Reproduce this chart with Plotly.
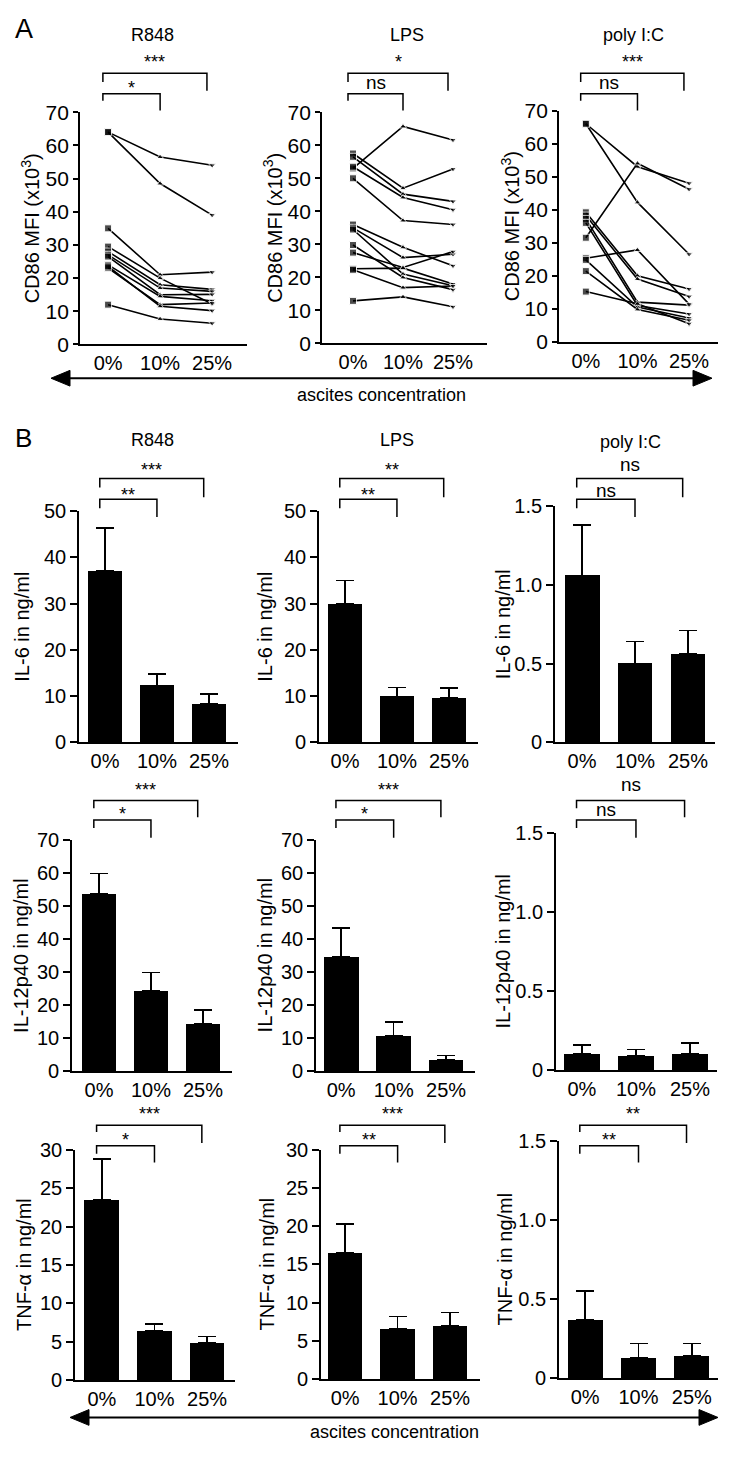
import plotly.graph_objects as go

# The browser page adds an 8px body margin; the figure is sized/offset so that the
# picture coordinates below (reference pixels) land where they should.
PAGE_W, PAGE_H, OFF = 733, 1457, 8
W, H = PAGE_W - OFF, PAGE_H - OFF
FONT = "Liberation Sans, Arial, Helvetica, sans-serif"

conc = ["0%", "10%", "25%"]
stimuli = ["R848", "LPS", "poly I:C"]

# ---- Panel A: CD86 MFI (x10^3), one entry per donor (0%, 10%, 25% ascites)
r848_0 = [64, 64, 35, 29.5, 28, 27, 26.5, 24, 23, 23.5, 12]
r848_10 = [56.5, 48.5, 21, 20, 18, 17, 15, 14.5, 12, 11.5, 7.7]
r848_25 = [54, 39, 21.8, 12.2, 16.6, 16, 15.1, 13.2, 12.5, 10.2, 6.4]

lps_0 = [53, 57.5, 56.5, 53.5, 50, 36, 35, 34.5, 29.8, 27.5, 22.6, 22.3, 12.9]
lps_10 = [65.7, 47, 45.2, 44.2, 37.2, 29.1, 26, 21, 20, 23, 22.8, 16.9, 14.1]
lps_25 = [61.6, 52.8, 43, 40.5, 36, 23.5, 27, 17.5, 16.3, 27.8, 18, 17.4, 11.1]

polyic_0 = [66, 66, 31.5, 39.2, 38.2, 37.2, 36, 25.3, 24.8, 21.4, 15.2]
polyic_10 = [53, 42.2, 54, 20, 19, 12, 11, 27.8, 10.5, 9.8, 11.5]
polyic_25 = [48, 26.5, 46.2, 16, 13.7, 11.1, 8.4, 11.4, 7.2, 6.5, 5.5]

sig_A = [("*", "***"), ("ns", "*"), ("ns", "***")]

# ---- Panel B: cytokines in ng/ml (mean, upper error)
il6_r848 = [37.0, 12.3, 8.3]
il6_r848_err = [9.4, 2.5, 2.1]
il6_lps = [30.0, 9.9, 9.6]
il6_lps_err = [5.0, 2.0, 2.2]
il6_polyic = [1.06, 0.50, 0.56]
il6_polyic_err = [0.32, 0.14, 0.15]

il12_r848 = [53.6, 24.4, 14.3]
il12_r848_err = [6.2, 5.4, 4.2]
il12_lps = [34.5, 10.8, 3.5]
il12_lps_err = [8.8, 4.0, 1.2]
il12_polyic = [0.10, 0.09, 0.10]
il12_polyic_err = [0.06, 0.04, 0.07]

tnf_r848 = [23.5, 6.4, 4.8]
tnf_r848_err = [5.3, 0.9, 0.9]
tnf_lps = [16.5, 6.6, 7.0]
tnf_lps_err = [3.8, 1.6, 1.7]
tnf_polyic = [0.37, 0.13, 0.14]
tnf_polyic_err = [0.18, 0.09, 0.08]

sig_il6 = [("**", "***"), ("**", "**"), ("ns", "ns")]
sig_il12 = [("*", "***"), ("*", "***"), ("ns", "ns")]
sig_tnf = [("*", "***"), ("**", "***"), ("**", "**")]

# ------------------------------------------------------------------
fig = go.Figure()
layout = dict(
    width=W, height=H, autosize=False,
    margin=dict(l=0, r=0, t=0, b=0),
    paper_bgcolor="white", plot_bgcolor="white",
    showlegend=False,
    font=dict(family=FONT, color="black", size=18),
)
shapes = []
annotations = []


def px(x):
    return (x - OFF) / W


def py(y):
    return 1 - (y - OFF) / H


counter = [0]


def add_text(text, x, y, size=18, xref="paper", angle=0):
    annotations.append(dict(text=text, xref=xref, yref="paper",
                            x=(px(x) if xref == "paper" else x), y=py(y),
                            showarrow=False, xanchor="center", yanchor="middle",
                            textangle=angle,
                            font=dict(size=size, family=FONT, color="black")))


def add_axes(xpx, ypx, xr, yr, tickvals, ticktext, ytitle, title_x, ysize, ticklen):
    counter[0] += 1
    n = counter[0]
    s = "" if n == 1 else str(n)
    layout["xaxis" + s] = dict(
        domain=[px(xpx[0]), px(xpx[1])], range=xr, anchor="y" + s,
        tickvals=[0, 1, 2], ticktext=conc, ticks="", showline=True,
        linecolor="black", linewidth=1.7, showgrid=False, zeroline=False,
        tickfont=dict(size=20, family=FONT, color="black"), fixedrange=True,
    )
    layout["yaxis" + s] = dict(
        domain=[py(ypx[1]), py(ypx[0])], range=yr, anchor="x" + s,
        tickvals=tickvals, ticktext=ticktext, ticks="outside", ticklen=ticklen,
        tickwidth=1.7, tickcolor="black", showline=True, linecolor="black",
        linewidth=1.7, showgrid=False, zeroline=False,
        tickfont=dict(size=ysize, family=FONT, color="black"),
        fixedrange=True,
    )
    add_text(ytitle, title_x, (ypx[0] + ypx[1]) / 2, 20, angle=-90)
    return "x" + s, "y" + s


def add_brackets(xref, levels, labels):
    in_top, in_l, in_r, out_top, out_l, out_r, in_lab, out_lab = levels
    xl, xi, xo = -0.1, 1.0, 1.9
    shapes.append(dict(type="path", xref=xref, yref="paper",
                       path=f"M {xl},{py(in_l)} L {xl},{py(in_top)} L {xi},{py(in_top)} L {xi},{py(in_r)}",
                       line=dict(color="black", width=1.5)))
    shapes.append(dict(type="path", xref=xref, yref="paper",
                       path=f"M {xl},{py(out_l)} L {xl},{py(out_top)} L {xo},{py(out_top)} L {xo},{py(out_r)}",
                       line=dict(color="black", width=1.5)))
    for lab, xm, ylab in ((labels[0], (xl + xi) / 2, in_lab), (labels[1], (xl + xo) / 2, out_lab)):
        if lab == "ns":
            add_text(lab, xm, ylab - 1, 19, xref=xref)
        else:
            add_text(lab, xm, ylab + 4, 18, xref=xref)


def double_arrow(x0, x1, y, text_y):
    hl, hw = 19, 8
    shapes.append(dict(type="line", xref="paper", yref="paper",
                       x0=px(x0 + hl - 2), x1=px(x1 - hl + 2), y0=py(y), y1=py(y),
                       line=dict(color="black", width=2)))
    shapes.append(dict(type="path", xref="paper", yref="paper",
                       path=f"M {px(x0)},{py(y)} L {px(x0 + hl)},{py(y - hw)} L {px(x0 + hl)},{py(y + hw)} Z",
                       fillcolor="black", line=dict(color="black", width=1)))
    shapes.append(dict(type="path", xref="paper", yref="paper",
                       path=f"M {px(x1)},{py(y)} L {px(x1 - hl)},{py(y - hw)} L {px(x1 - hl)},{py(y + hw)} Z",
                       fillcolor="black", line=dict(color="black", width=1)))
    add_text("ascites concentration", (x0 + x1) / 2, text_y, 18)


# ---------------- Panel A ----------------
A_cols = [
    dict(x=(80, 247), y=(101.7, 337.7), xr=[-0.54, 2.67], tx=30),
    dict(x=(322, 487), y=(101.7, 336.7), xr=[-0.62, 2.68], tx=273),
    dict(x=(559, 718), y=(100, 335), xr=[-0.52, 2.56], tx=510),
]
A_data = [(r848_0, r848_10, r848_25), (lps_0, lps_10, lps_25), (polyic_0, polyic_10, polyic_25)]
A_levels = (83, 90, 100, 62, 71, 80, 73, 47)
cd86_ticks = [0, 10, 20, 30, 40, 50, 60, 70]

for col, (d0, d10, d25), sig in zip(A_cols, A_data, sig_A):
    xref, yref = add_axes(col["x"], col["y"], col["xr"], [0, 70], cd86_ticks,
                          [str(t) for t in cd86_ticks], "CD86 MFI (x10<sup>3</sup>)",
                          col["tx"], 21, 5)
    for a, b, c in zip(d0, d10, d25):
        fig.add_trace(go.Scatter(
            x=[0, 1, 2], y=[a, b, c], mode="lines+markers", xaxis=xref, yaxis=yref,
            line=dict(color="black", width=1.6),
            marker=dict(symbol=["square", "triangle-up", "triangle-down"], size=[7, 6, 6],
                        color="black"),
            cliponaxis=False, hoverinfo="skip"))
    add_brackets(xref, A_levels, sig)

add_text("A", 24, 17, 27)
add_text("R848", 152, 23)
add_text("LPS", 407, 23)
add_text("poly I:C", 633, 23)
double_arrow(51, 712, 372, 389)

# ---------------- Panel B ----------------
B_rows = [
    dict(title="IL-6 in ng/ml",
         data=[(il6_r848, il6_r848_err), (il6_lps, il6_lps_err), (il6_polyic, il6_polyic_err)],
         ranges=[[0, 50], [0, 50], [0, 1.5]],
         cols=[dict(x=(79, 238), y=(507, 742), xr=[-0.5, 2.56], tx=22),
               dict(x=(319, 478), y=(507, 742), xr=[-0.5, 2.56], tx=265),
               dict(x=(555, 715), y=(502, 742), xr=[-0.51, 2.51], tx=503)],
         levels=(495, 504, 513, 474, 483, 493, 487, 461),
         sig=sig_il6),
    dict(title="IL-12p40 in ng/ml",
         data=[(il12_r848, il12_r848_err), (il12_lps, il12_lps_err), (il12_polyic, il12_polyic_err)],
         ranges=[[0, 70], [0, 70], [0, 1.5]],
         cols=[dict(x=(72, 232), y=(841, 1076), xr=[-0.52, 2.56], tx=21.5),
               dict(x=(316, 475), y=(841, 1076), xr=[-0.48, 2.55], tx=265),
               dict(x=(556, 717), y=(834, 1075), xr=[-0.48, 2.5], tx=503)],
         levels=(821, 829, 839, 801, 809, 818, 811, 786),
         sig=sig_il12),
    dict(title="TNF-α in ng/ml",
         data=[(tnf_r848, tnf_r848_err), (tnf_lps, tnf_lps_err), (tnf_polyic, tnf_polyic_err)],
         ranges=[[0, 30], [0, 30], [0, 1.5]],
         cols=[dict(x=(75, 235), y=(1156, 1390), xr=[-0.51, 2.53], tx=24),
               dict(x=(321, 480), y=(1156, 1389), xr=[-0.46, 2.57], tx=267),
               dict(x=(559, 718), y=(1147, 1388), xr=[-0.49, 2.49], tx=505)],
         levels=(1152, 1160, 1169, 1131, 1138, 1149, 1142, 1116),
         sig=sig_tnf),
]


def ticks_for(rng):
    if rng[1] == 1.5:
        return [0, 0.5, 1.0, 1.5], ["0", "0.5", "1.0", "1.5"]
    step = 5 if rng[1] == 30 else 10
    vals = list(range(0, int(rng[1]) + 1, step))
    return vals, [str(v) for v in vals]


for row in B_rows:
    for col, (vals, errs), rng, sig in zip(row["cols"], row["data"], row["ranges"], row["sig"]):
        tv, tt = ticks_for(rng)
        xref, yref = add_axes(col["x"], col["y"], col["xr"], rng, tv, tt, row["title"],
                              col["tx"], 20, 7)
        fig.add_trace(go.Bar(
            x=[0, 1, 2], y=vals, xaxis=xref, yaxis=yref, width=0.66,
            marker=dict(color="black", line=dict(width=0)),
            error_y=dict(type="data", symmetric=False, array=errs, arrayminus=[0, 0, 0],
                         color="black", thickness=1.6, width=9),
            hoverinfo="skip"))
        add_brackets(xref, row["levels"], sig)

add_text("B", 24, 433, 26)
add_text("R848", 152, 435)
add_text("LPS", 397, 435)
add_text("poly I:C", 630, 437)
double_arrow(70, 718, 1428, 1443)

layout["shapes"] = shapes
layout["annotations"] = annotations
layout["bargap"] = 0
fig.update_layout(**layout)
fig.write_html("out.html")
